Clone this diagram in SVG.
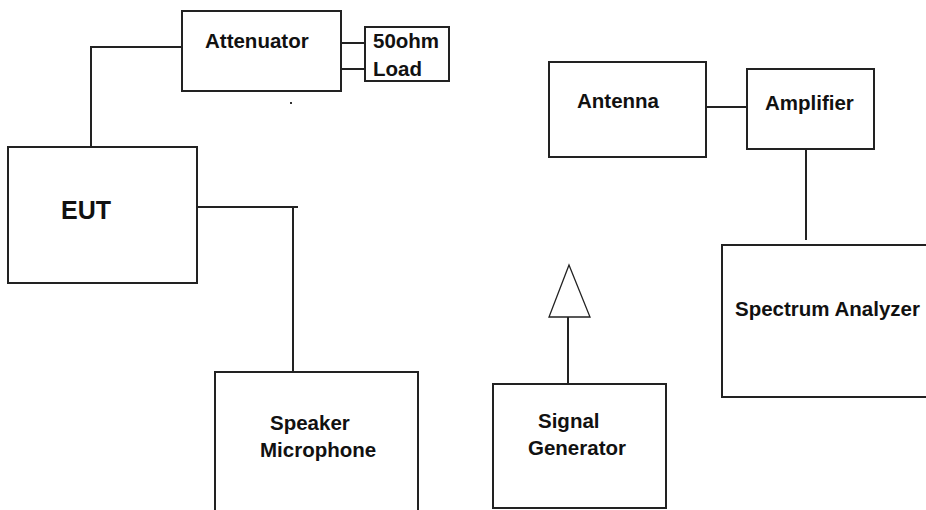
<svg xmlns="http://www.w3.org/2000/svg" width="926" height="510" viewBox="0 0 926 510">
<style>
.box{fill:#fff;stroke:#222;stroke-width:2}
.ln{fill:none;stroke:#222;stroke-width:2}
.t{font-family:"Liberation Sans",Arial,sans-serif;font-weight:bold;font-size:20.5px;fill:#111}
.big{font-size:25px}
</style>
<rect width="926" height="510" fill="#fff"/>
<g id="connectors">
<polyline class="ln" points="182,47 91,47 91,147"/>
<line class="ln" x1="341" y1="43" x2="365" y2="43"/>
<line class="ln" x1="341" y1="69" x2="365" y2="69"/>
<polyline class="ln" points="197,207 298,207"/>
<line class="ln" x1="293" y1="207" x2="293" y2="372"/>
<line class="ln" x1="706" y1="107" x2="747" y2="107"/>
<line class="ln" x1="806" y1="149" x2="806" y2="240"/>
<line class="ln" x1="568" y1="317" x2="568" y2="384"/>
</g>
<g id="attenuator"><rect class="box" x="182" y="11" width="159" height="80"/><text class="t" x="205" y="48">Attenuator</text></g>
<g id="load"><rect class="box" x="365" y="27" width="84" height="54"/><text class="t" x="373" y="48">50ohm</text><text class="t" x="373" y="76">Load</text></g>
<g id="dot"><rect x="290" y="102" width="2" height="2" fill="#333"/></g>
<g id="eut"><rect class="box" x="8" y="147" width="189" height="136"/><text class="t big" x="61" y="219">EUT</text></g>
<g id="speaker"><rect class="box" x="215" y="372" width="203" height="160"/><text class="t" x="270" y="430">Speaker</text><text class="t" x="260" y="457">Microphone</text></g>
<g id="antenna-symbol"><polygon points="569,265 549,317 590,317" fill="#fff" stroke="#222" stroke-width="1.3"/></g>
<g id="signal-generator"><rect class="box" x="493" y="384" width="173" height="124"/><text class="t" x="538" y="428">Signal</text><text class="t" x="528" y="455">Generator</text></g>
<g id="antenna"><rect class="box" x="549" y="62" width="157" height="95"/><text class="t" x="577" y="108">Antenna</text></g>
<g id="amplifier"><rect class="box" x="747" y="69" width="127" height="80"/><text class="t" x="765" y="110">Amplifier</text></g>
<g id="spectrum-analyzer"><rect class="box" x="722" y="245" width="220" height="152"/><text class="t" x="735" y="316">Spectrum Analyzer</text></g>
</svg>
